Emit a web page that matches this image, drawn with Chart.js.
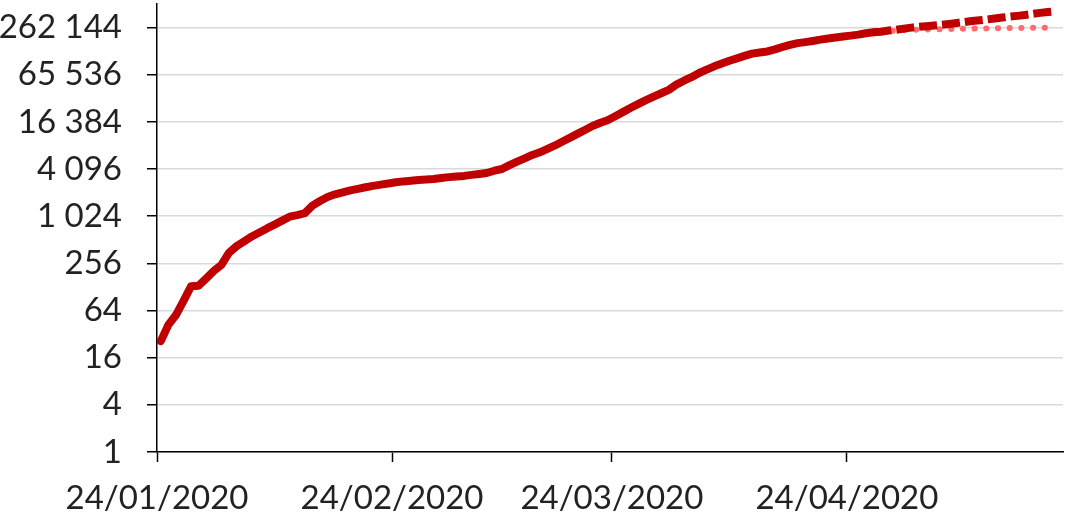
<!DOCTYPE html>
<html>
<head>
<meta charset="utf-8">
<script src="https://cdn.jsdelivr.net/npm/chart.js@4.4.1/dist/chart.umd.min.js"></script>
<style>
  html, body { margin: 0; padding: 0; background: #ffffff; }
  #wrap { width: 1067px; height: 525px; }
</style>
</head>
<body>
<div id="wrap"><canvas id="c" width="1067" height="525"></canvas></div>
<script>
// ---- Data (day index counted from 24/01/2020) ----
const tickLabels = ['24/01/2020', '24/02/2020', '24/03/2020', '24/04/2020'];
const tickDays = [0, 31, 60, 91];
const yTickValues = [1, 4, 16, 64, 256, 1024, 4096, 16384, 65536, 262144];

// Observed cumulative series (solid), days 0..94
const observedStart = 0;
const observed = [
  26, 42, 56, 85, 131, 133, 165, 205, 245, 350,
  425, 490, 565, 634, 715, 800, 900, 1010, 1060, 1120,
  1400, 1600, 1800, 1950, 2070, 2190, 2290, 2400, 2500, 2590,
  2680, 2780, 2850, 2900, 2960, 3010, 3060, 3150, 3230, 3290,
  3350, 3450, 3550, 3650, 3900, 4100, 4600, 5100, 5600, 6200,
  6700, 7400, 8200, 9200, 10300, 11600, 13000, 14600, 16000, 17300,
  19500, 22000, 24800, 27800, 31000, 34500, 38000, 42000, 49000, 55000,
  61000, 69000, 76000, 84000, 91000, 99000, 106000, 114000, 122000, 126000,
  130000, 138000, 148000, 158000, 166000, 171000, 177000, 184000, 190000, 196000,
  202000, 207000, 213000, 222000, 228000
];

// Projection (dashed red), days 94..118
const projectedStart = 94;
const projected = [
  228000, 232000, 240000, 246000, 254000, 262000, 268000, 273000, 279000, 285000,
  292000, 300000, 309000, 318000, 325000, 333000, 342000, 352000, 362000, 370000,
  380000, 392000, 404000, 414000, 424000
];

// Lower projection (dotted pink), days 95..117
const lowerStart = 95;
const lower = [
  232000, 236000, 240000, 243000, 245000, 247000, 248000, 249000, 250000, 251000,
  252000, 253000, 254000, 255000, 256000, 257000, 258000, 259000, 259500, 260000,
  260500, 261000, 261500
];

function toPoints(arr, start) {
  return arr.map((v, i) => ({ x: start + i, y: v }));
}
function fmtSpace(v) {
  return String(Math.round(v)).replace(/\B(?=(\d{3})+(?!\d))/g, ' ');
}

const FONT = "Lato, 'Open Sans', sans-serif";

new Chart(document.getElementById('c'), {
  type: 'line',
  data: {
    datasets: [
      {
        data: toPoints(observed, observedStart),
        borderColor: '#c00000',
        borderWidth: 8,
        pointRadius: 0,
        tension: 0,
        borderJoinStyle: 'round',
        borderCapStyle: 'round'
      },
      {
        data: toPoints(projected, projectedStart),
        borderColor: '#c00000',
        borderWidth: 8,
        borderDash: [18, 5],
        pointRadius: 0,
        tension: 0,
        borderCapStyle: 'butt'
      },
      {
        data: toPoints(lower, lowerStart),
        borderColor: '#ff6b6e',
        borderWidth: 6,
        borderDash: [0.1, 11.6],
        borderCapStyle: 'round',
        pointRadius: 0,
        tension: 0
      }
    ]
  },
  options: {
    responsive: false,
    animation: false,
    events: [],
    layout: { padding: { top: 4, right: 4, left: 0, bottom: 0 } },
    plugins: { legend: { display: false }, tooltip: { enabled: false } },
    scales: {
      x: {
        type: 'linear',
        min: -0.5,
        max: 119,
        afterBuildTicks: (s) => { s.ticks = tickDays.map(d => ({ value: d - 0.5 })); },
        afterFit: (s) => { s.height = 73; s.paddingRight = 0; s.paddingLeft = 0; },
        grid: {
          drawOnChartArea: false,
          drawTicks: true,
          tickLength: 10,
          tickColor: '#000000',
          tickWidth: 1.5
        },
        border: { display: true, color: '#000000', width: 1.5 },
        ticks: {
          autoSkip: false,
          maxRotation: 0,
          padding: 17,
          color: '#222222',
          font: { family: FONT, size: 33 },
          callback: (v, i) => tickLabels[i]
        }
      },
      y: {
        type: 'logarithmic',
        min: 1,
        max: 524288,
        afterBuildTicks: (s) => { s.ticks = yTickValues.map(v => ({ value: v })); },
        afterFit: (s) => { s.width = 157; s.paddingTop = 0; s.paddingBottom = 0; },
        grid: {
          drawOnChartArea: true,
          color: '#d9d9d9',
          lineWidth: 1.5,
          drawTicks: true,
          tickLength: 10,
          tickColor: '#000000',
          tickWidth: 1.5
        },
        border: { display: true, color: '#000000', width: 1.5 },
        ticks: {
          autoSkip: false,
          padding: 25,
          color: '#222222',
          font: { family: FONT, size: 33 },
          callback: (v) => fmtSpace(v)
        }
      }
    }
  }
});
</script>
</body>
</html>
